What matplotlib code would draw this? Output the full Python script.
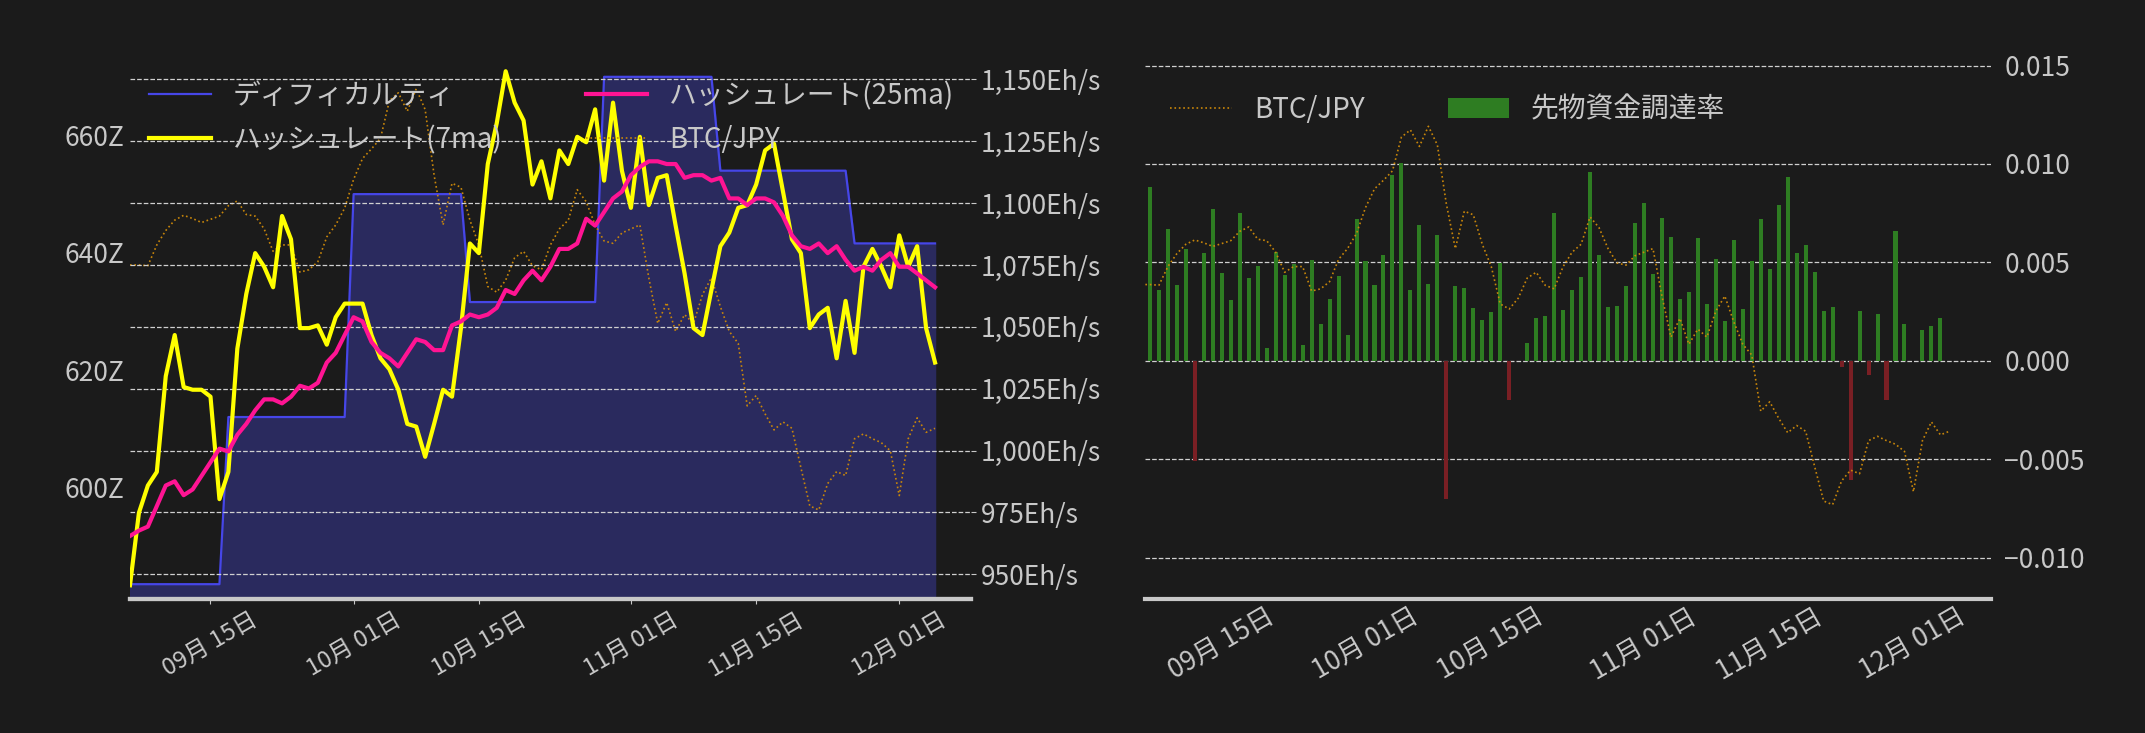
import matplotlib
matplotlib.use("Agg")
import matplotlib.pyplot as plt
import matplotlib.dates as mdates
import matplotlib.ticker as mticker
import numpy as np
import pandas as pd

plt.rcParams['font.family'] = ['Noto Sans CJK JP', 'DejaVu Sans']
plt.rcParams['axes.unicode_minus'] = True

# --- data ---
start_date = "2025-09-06"

difficulty = ([583.5] * 11 + [612.0] * 14 + [650.0] * 13 + [631.6] * 15
              + [670.0] * 13 + [654.0] * 15 + [641.6] * 10)

hash_7ma = [945.6, 974.9, 985.9, 991.4, 1030.1, 1046.7, 1025.7, 1024.6, 1024.6, 1021.8,
            980.4, 991.4, 1041.2, 1063.3, 1079.8, 1074.3, 1066.0, 1094.8, 1085.4, 1049.5,
            1049.5, 1050.6, 1042.8, 1053.9, 1059.4, 1059.4, 1059.4, 1046.7, 1037.3, 1032.9,
            1024.6, 1010.8, 1009.7, 997.5, 1010.8, 1024.6, 1021.8, 1049.5, 1083.7, 1079.8,
            1115.8, 1132.3, 1153.3, 1140.6, 1133.4, 1107.5, 1116.9, 1101.9, 1121.3, 1115.8,
            1126.8, 1124.6, 1137.9, 1109.1, 1140.6, 1113.0, 1098.1, 1126.8, 1099.2, 1110.2,
            1111.3, 1090.9, 1071.6, 1049.5, 1046.7, 1064.9, 1082.6, 1088.1, 1098.1, 1099.2,
            1107.5, 1121.3, 1124.0, 1104.7, 1085.4, 1079.8, 1049.5, 1055.0, 1057.7, 1037.3,
            1060.5, 1039.5, 1074.3, 1081.5, 1074.3, 1066.0, 1087.0, 1074.3, 1082.6, 1049.5,
            1035.6]

hash_25ma = [965.5, 967.7, 969.3, 977.6, 985.9, 987.6, 982.0, 984.3, 989.8, 995.3,
             1000.8, 999.7, 1006.4, 1010.8, 1016.3, 1020.7, 1020.7, 1019.1, 1021.8, 1026.2,
             1025.1, 1027.4, 1035.6, 1039.5, 1046.7, 1053.9, 1052.2, 1043.9, 1039.5, 1037.3,
             1034.0, 1039.5, 1045.0, 1043.9, 1040.6, 1040.6, 1050.6, 1052.2, 1055.0, 1053.9,
             1055.0, 1057.7, 1064.9, 1063.3, 1068.8, 1072.7, 1068.8, 1074.3, 1081.5, 1081.5,
             1083.7, 1093.7, 1090.9, 1096.4, 1101.9, 1104.7, 1111.3, 1114.6, 1116.9, 1116.9,
             1115.8, 1115.8, 1110.2, 1111.3, 1111.3, 1109.1, 1110.2, 1101.9, 1101.9, 1099.2,
             1101.9, 1101.9, 1100.3, 1094.8, 1087.0, 1082.6, 1081.5, 1083.7, 1079.8, 1082.6,
             1077.1, 1072.7, 1074.3, 1072.7, 1077.1, 1079.8, 1074.3, 1074.3, 1071.6, 1068.8,
             1066.0]

btc_jpy = [16.29, 16.29, 16.28, 16.54, 16.72, 16.85, 16.91, 16.87, 16.82, 16.86,
           16.90, 17.03, 17.09, 16.92, 16.90, 16.74, 16.46, 16.54, 16.54, 16.20,
           16.23, 16.33, 16.64, 16.79, 17.00, 17.36, 17.62, 17.74, 17.87, 18.34,
           18.44, 18.21, 18.49, 18.23, 17.41, 16.79, 17.31, 17.26, 16.85, 16.54,
           16.02, 15.95, 16.10, 16.38, 16.46, 16.28, 16.23, 16.54, 16.74, 16.85,
           17.23, 17.08, 16.79, 16.59, 16.56, 16.69, 16.74, 16.79, 16.13, 15.56,
           15.82, 15.46, 15.67, 15.56, 15.92, 16.13, 15.77, 15.46, 15.31, 14.53,
           14.66, 14.43, 14.23, 14.33, 14.25, 13.76, 13.28, 13.23, 13.56, 13.71,
           13.66, 14.12, 14.18, 14.12, 14.07, 13.97, 13.41, 14.12, 14.38, 14.20,
           14.25]

funding = [0.00427, 0.00884, 0.00358, 0.0067, 0.00386, 0.00567, -0.00511, 0.00545, 0.00769, 0.00446,
           0.00306, 0.0075, 0.00418, 0.00483, 0.00063, 0.00554, 0.00437, 0.00493, 0.00078, 0.00511,
           0.00185, 0.00312, 0.00433, 0.00129, 0.0072, 0.00507, 0.00386, 0.00539, 0.00944, 0.01006,
           0.00358, 0.00688, 0.0039, 0.00638, -0.00705, 0.00381, 0.00368, 0.00267, 0.00205, 0.00246,
           0.00498, -0.00201, 0.0, 0.0009, 0.00216, 0.00229, 0.0075, 0.00256, 0.00358, 0.00427,
           0.00957, 0.00539, 0.00272, 0.00276, 0.00381, 0.007, 0.008, 0.00442, 0.00726, 0.00629,
           0.00312, 0.00347, 0.00625, 0.00287, 0.00519, 0.00203, 0.00614, 0.00263, 0.00507, 0.0072,
           0.00465, 0.00791, 0.00933, 0.00545, 0.0059, 0.00453, 0.00252, 0.00272, -0.00034, -0.00604,
           0.00252, -0.00071, 0.00237, -0.00201, 0.0066, 0.00187, 0.0, 0.00155, 0.00175, 0.00216,
           0.0]

dates = pd.date_range(start_date, periods=len(btc_jpy), freq="D")

BG = "#1b1b1b"
TXT = "#c8c8c8"

fig = plt.figure(figsize=(21.45, 7.33), dpi=100, facecolor=BG)
ax = fig.add_axes([0.0606, 0.183, 0.392, 0.733], facecolor=BG)
ax2 = fig.add_axes([0.534, 0.183, 0.394, 0.733], facecolor=BG)


def style(a):
    for s in ("top", "left", "right"):
        a.spines[s].set_visible(False)
    a.spines["bottom"].set_color("#c8c8c8")
    a.spines["bottom"].set_linewidth(3)
    a.tick_params(colors=TXT, labelsize=19)


# --- left: difficulty / hashrate ---
style(ax)
ax.fill_between(dates, difficulty, 560, color="#2a2a5e", zorder=1)
l_diff, = ax.plot(dates, difficulty, color="#4646e8", lw=1.6, zorder=2, label="ディフィカルティ")
ax.set_ylim(581, 672.6)
ax.set_yticks([600, 620, 640, 660])
ax.yaxis.set_major_formatter(mticker.FuncFormatter(lambda v, p: f"{v:.0f}Z"))
ax.tick_params(axis="y", length=0, pad=4)

ax_b = ax.twinx()
ax_b.axis("off")
l_btc, = ax_b.plot(dates, btc_jpy, color="#c8860a", lw=1.2, ls=":", label="BTC/JPY")
ax_b.set_ylim(12.12, 18.83)

ax_h = ax.twinx()
style(ax_h)
ax_h.grid(axis="y", color="#d0d0d0", ls="--", lw=0.9)
l7, = ax_h.plot(dates, hash_7ma, color="#ffff00", lw=3, label="ハッシュレート(7ma)")
l25, = ax_h.plot(dates, hash_25ma, color="#ff1493", lw=3, label="ハッシュレート(25ma)")
ax_h.set_ylim(940.1, 1157.2)
ax_h.set_yticks(np.arange(950, 1151, 25))
ax_h.yaxis.set_major_formatter(mticker.FuncFormatter(lambda v, p: f"{v:,.0f}Eh/s"))

ax.set_xlim(pd.Timestamp("2025-09-06"), pd.Timestamp("2025-12-09"))
for a in (ax, ax2):
    a.xaxis.set_major_locator(mdates.DayLocator(bymonthday=[1, 15]))
    a.xaxis.set_major_formatter(mdates.DateFormatter("%m月 %d日"))
    plt.setp(a.get_xticklabels(), rotation=30, ha="center", fontsize=17)

ax_h.legend(handles=[l_diff, l7, l25, l_btc], ncol=2, loc="upper left",
            frameon=False, fontsize=20, labelcolor=TXT, columnspacing=3.0,
            handlelength=2.2, borderaxespad=0.3)

# --- right: funding rate ---
style(ax2)
ax2.grid(axis="y", color="#d0d0d0", ls="--", lw=0.9)
colors = ["#2e7d22" if v >= 0 else "#7a1f24" for v in funding]
bars = ax2.bar(dates, funding, width=0.45, color=colors, zorder=2, label="先物資金調達率")
ax2.set_ylim(-0.0121, 0.0152)
ax2.set_yticks([-0.010, -0.005, 0.0, 0.005, 0.010, 0.015])
ax2.yaxis.set_major_formatter(mticker.FuncFormatter(lambda v, p: f"{v:.3f}".replace("-", "\u2212")))
ax2.tick_params(axis="x", length=0)
ax2.set_xlim(pd.Timestamp("2025-09-06 12:00"), pd.Timestamp("2025-12-09 14:00"))

ax2_b = ax2.twinx()
ax2_b.axis("off")
r_btc, = ax2_b.plot(dates, btc_jpy, color="#c8860a", lw=1.2, ls=":", label="BTC/JPY")
ax2_b.set_ylim(11.92, 19.39)
ax2.yaxis.tick_right()
ax2.tick_params(axis="y", length=0, pad=10, colors=TXT, labelsize=19)
ax2_b.legend(handles=[r_btc, bars], ncol=2, loc="upper left", frameon=False,
             fontsize=20, labelcolor=TXT, columnspacing=3.0, handlelength=2.2,
             bbox_to_anchor=(0.0, 0.985))

fig.savefig("out.png", dpi=100, facecolor=BG)
